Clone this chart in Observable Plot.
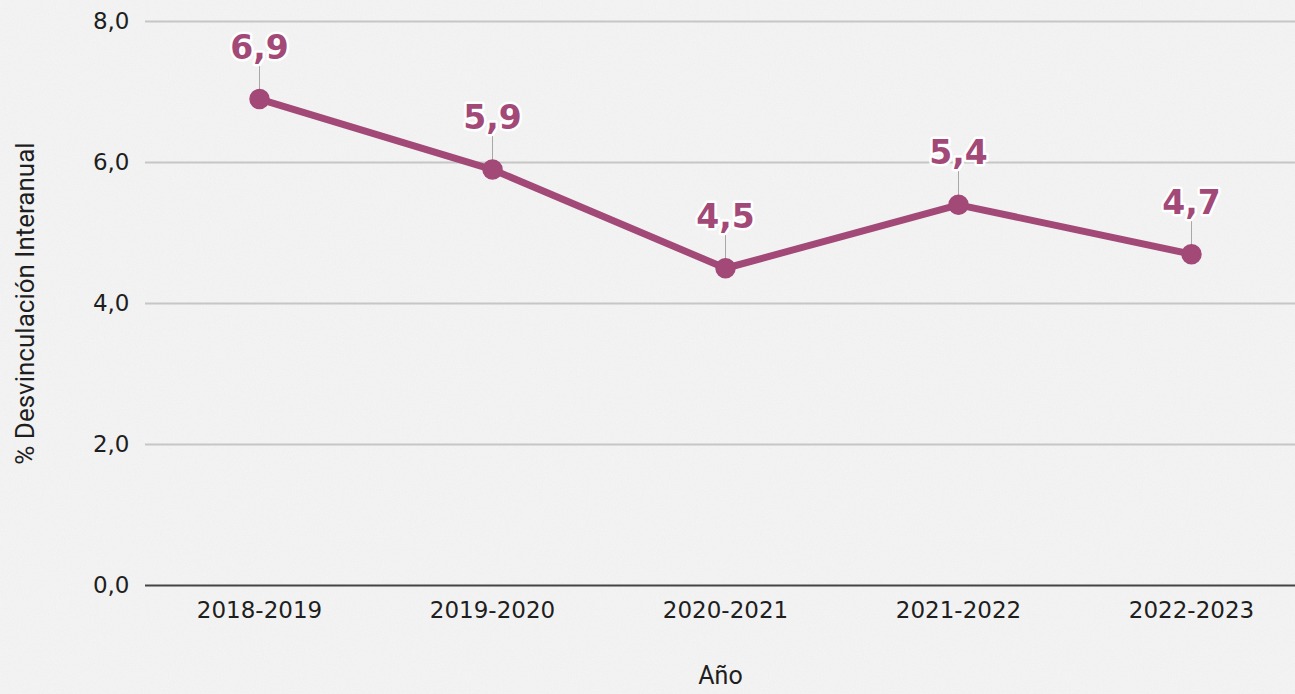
<!DOCTYPE html>
<html>
<head>
<meta charset="utf-8">
<script src="https://cdn.jsdelivr.net/npm/d3@7"></script>
<script src="https://cdn.jsdelivr.net/npm/@observablehq/plot@0.6"></script>
<style>
  html, body { margin: 0; padding: 0; }
  body {
    width: 1295px; height: 694px; overflow: hidden;
    background-color: #f5f5f5;
    background-image: url("data:image/svg+xml;utf8,<svg xmlns='http://www.w3.org/2000/svg' width='300' height='300'><filter id='n'><feTurbulence type='fractalNoise' baseFrequency='0.85' numOctaves='3' stitchTiles='stitch'/><feColorMatrix values='0 0 0 0 0.55  0 0 0 0 0.55  0 0 0 0 0.55  0 0 0 0.14 0'/></filter><rect width='300' height='300' filter='url(%23n)'/></svg>");
  }
  #chart svg { display: block; background: transparent; }
</style>
</head>
<body>
<div id="chart"></div>
<script>
const years = ["2018-2019", "2019-2020", "2020-2021", "2021-2022", "2022-2023"];
const values = [6.9, 5.9, 4.5, 5.4, 4.7];
const yTicks = [0, 2, 4, 6, 8];

const data = years.map((y, i) => ({ year: y, v: values[i] }));
const fmt = v => v.toFixed(1).replace(".", ",");
const purple = "#a24978";

const chart = Plot.plot({
  width: 1295,
  height: 694,
  marginLeft: 145,
  marginRight: 0,
  marginTop: 21,
  marginBottom: 109,
  style: { fontFamily: "'DejaVu Sans', sans-serif", fontSize: "23px", color: "#222", background: "transparent" },
  x: { type: "point", domain: years, range: [258, 1191], padding: 0, label: null },
  y: { domain: [0, 8], label: null },
  marks: [
    Plot.gridY(yTicks.filter(t => t > 0), { stroke: "#c6c6c6", strokeOpacity: 1, strokeWidth: 2 }),
    Plot.ruleY([0], { stroke: "#444", strokeWidth: 2 }),
    Plot.axisY(yTicks, { tickSize: 0, tickPadding: 16, tickFormat: fmt, fontSize: 23, fill: "#1e1e1e" }),
    Plot.axisX({ tickSize: 0, tickPadding: 16, fontSize: 23, fill: "#1e1e1e" }),
    Plot.text(["% Desvinculación Interanual"], { frameAnchor: "left", textAnchor: "middle", rotate: -90, dx: -120, fontFamily: "Roboto, sans-serif", fontSize: 26, fill: "#1e1e1e" }),
    Plot.text(["Año"], { frameAnchor: "bottom", dy: 98, fontFamily: "Roboto, sans-serif", fontSize: 25, fill: "#1e1e1e" }),
    Plot.ruleX(data, { x: "year", y1: d => d.v, y2: d => d.v + 0.48, stroke: "#a8a8a8", strokeWidth: 1 }),
    Plot.line(data, { x: "year", y: "v", stroke: purple, strokeWidth: 7, strokeLinejoin: "round" }),
    Plot.dot(data, { x: "year", y: "v", r: 9.5, fill: purple, stroke: purple }),
    Plot.text(data, { x: "year", y: "v", text: d => fmt(d.v), dy: -51, fontFamily: "'DejaVu Sans', sans-serif", fontWeight: 700, fontSize: 33, fill: purple, stroke: "white", strokeWidth: 5, paintOrder: "stroke" })
  ]
});
document.getElementById("chart").appendChild(chart);
</script>
</body>
</html>
